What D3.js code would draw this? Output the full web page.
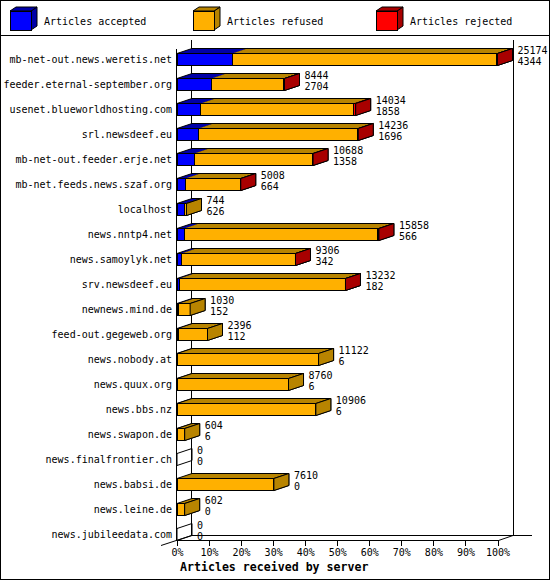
<!DOCTYPE html>
<html>
<head>
<meta charset="utf-8">
<script src="https://cdn.jsdelivr.net/npm/d3@7"></script>
<style>
  html, body { margin: 0; padding: 0; background: #fff; }
  svg { display: block; }
  text { font-family: "DejaVu Sans Mono", monospace; fill: #000; }
  line, rect { shape-rendering: crispEdges; }
</style>
</head>
<body>
<svg id="chart" width="550" height="580"></svg>
<script>
const servers = [
  "mb-net-out.news.weretis.net", "feeder.eternal-september.org", "usenet.blueworldhosting.com",
  "srl.newsdeef.eu", "mb-net-out.feeder.erje.net", "mb-net.feeds.news.szaf.org", "localhost",
  "news.nntp4.net", "news.samoylyk.net", "srv.newsdeef.eu", "newnews.mind.de", "feed-out.gegeweb.org",
  "news.nobody.at", "news.quux.org", "news.bbs.nz", "news.swapon.de", "news.finalfrontier.ch",
  "news.babsi.de", "news.leine.de", "news.jubileedata.com"
];
const totals   = [25174, 8444, 14034, 14236, 10688, 5008, 744, 15858, 9306, 13232, 1030, 2396, 11122, 8760, 10906, 604, 0, 7610, 602, 0];
const accepted = [4344, 2704, 1858, 1696, 1358, 664, 626, 566, 342, 182, 152, 112, 6, 6, 6, 6, 0, 0, 0, 0];
const refused  = [20762, 5644, 11988, 12498, 9276, 4322, 118, 15210, 8928, 13026, 878, 2284, 11116, 8754, 10900, 598, 0, 7610, 602, 0];
const rejected = [68, 96, 188, 42, 54, 22, 0, 82, 36, 24, 0, 0, 0, 0, 0, 0, 0, 0, 0, 0];
const seriesNames = ["Articles accepted", "Articles refused", "Articles rejected"];
const pctTicks = [0, 10, 20, 30, 40, 50, 60, 70, 80, 90, 100];
const xTitle = "Articles received by server";

const front = ["#0000ff", "#ffb000", "#ff0000"];
const dark  = ["#0000a8", "#b88400", "#a80000"];
const DX = 15, DY = 5;

const svg = d3.select("#chart");

// outer frame and legend separator
svg.append("rect").attr("x", 0.5).attr("y", 0.5).attr("width", 549).attr("height", 579)
  .attr("fill", "none").attr("stroke", "#000");
svg.append("line").attr("x1", 0).attr("x2", 550).attr("y1", 35.5).attr("y2", 35.5).attr("stroke", "#000");

// legend
const legX = d3.scalePoint().domain(seriesNames).range([10, 376]);
seriesNames.forEach((name, i) => {
  const x = legX(name), y = 11, w = 21, h = 19, dx = 6, dy = 4;
  const g = svg.append("g");
  g.append("polygon").attr("points", [[x + w, y], [x + w + dx, y - dy], [x + w + dx, y + h - dy], [x + w, y + h]].join(" "))
    .attr("fill", dark[i]).attr("stroke", "#000");
  g.append("polygon").attr("points", [[x, y], [x + dx, y - dy], [x + w + dx, y - dy], [x + w, y]].join(" "))
    .attr("fill", dark[i]).attr("stroke", "#000");
  g.append("rect").attr("x", x + 0.5).attr("y", y + 0.5).attr("width", w).attr("height", h)
    .attr("fill", front[i]).attr("stroke", "#000");
  g.append("text").attr("x", x + 34).attr("y", 25).attr("font-size", "10px").text(name);
});

// scales
const maxTotal = d3.max(totals);
const x = d3.scaleLinear().domain([0, maxTotal]).range([177, 497.5]);
const xp = d3.scaleLinear().domain([0, 100]).range([177, 497.5]);
const y = d3.scaleBand().domain(servers).range([46.5, 546.5]).paddingInner(0.52).paddingOuter(0.26);

const x0 = x(0);
const yTop = y(servers[0]) - DY - 8;
const floorY = y(servers[servers.length - 1]) + y.bandwidth() + 0.5;

// walls
svg.append("line").attr("x1", x0 - 0.5).attr("x2", x0 - 0.5).attr("y1", yTop + DY + 4).attr("y2", floorY).attr("stroke", "#000");
svg.append("line").attr("x1", x0 + DX - 0.5).attr("x2", x0 + DX - 0.5).attr("y1", yTop).attr("y2", floorY - DY).attr("stroke", "#000");
svg.append("line").attr("x1", x(maxTotal) + DX + 0.5).attr("x2", x(maxTotal) + DX + 0.5).attr("y1", yTop).attr("y2", floorY - DY).attr("stroke", "#000");
// floor
svg.append("line").attr("x1", x0 - 0.5).attr("x2", x(maxTotal) + 1).attr("y1", floorY).attr("y2", floorY).attr("stroke", "#000");
svg.append("line").attr("x1", x(maxTotal) + 1).attr("x2", x(maxTotal) + DX + 0.5).attr("y1", floorY).attr("y2", floorY - DY).attr("stroke", "#000").style("shape-rendering", "auto");
svg.append("line").attr("x1", x0 + DX - 0.5).attr("x2", x(maxTotal) + DX + 19).attr("y1", floorY - DY).attr("y2", floorY - DY).attr("stroke", "#000");
svg.append("line").attr("x1", x0 - 16).attr("x2", x0 + DX - 0.5).attr("y1", floorY + DY).attr("y2", floorY - DY).attr("stroke", "#000").style("shape-rendering", "auto");

// bars
servers.forEach((s, r) => {
  const vals = [accepted[r], refused[r], rejected[r]];
  const t = y(s) + 0.5, b = t + y.bandwidth();
  const g = svg.append("g");
  let cum = 0;
  const segs = [];
  vals.forEach((v, i) => {
    if (v > 0) {
      segs.push({ i, a: x(cum), e: x(cum + v) });
    }
    cum += v;
  });
  const xEnd = x(totals[r]);
  if (segs.length === 0) {
    g.append("polygon").attr("points", [[x0, t], [x0 + DX, t - DY], [x0 + DX, b - DY], [x0, b]].join(" "))
      .attr("fill", "none").attr("stroke", "#000");
  } else {
    segs.forEach(sg => {
      g.append("polygon").attr("points", [[sg.e, t], [sg.e + DX, t - DY], [sg.e + DX, b - DY], [sg.e, b]].join(" "))
        .attr("fill", dark[sg.i]).attr("stroke", "#000");
      g.append("polygon").attr("points", [[sg.a, t], [sg.a + DX, t - DY], [sg.e + DX, t - DY], [sg.e, t]].join(" "))
        .attr("fill", dark[sg.i]).attr("stroke", "none");
    });
    g.append("polygon").attr("points", [[x0, t], [x0 + DX, t - DY], [xEnd + DX, t - DY], [xEnd, t]].join(" "))
      .attr("fill", "none").attr("stroke", "#000");
    segs.forEach(sg => {
      g.append("rect").attr("x", sg.a).attr("y", t).attr("width", Math.max(0, sg.e - sg.a)).attr("height", b - t)
        .attr("fill", front[sg.i]).attr("stroke", "#000");
    });
    const last = segs[segs.length - 1];
    g.append("polygon").attr("points", [[last.e, t], [last.e + DX, t - DY], [last.e + DX, b - DY], [last.e, b]].join(" "))
      .attr("fill", dark[last.i]).attr("stroke", "#000");
  }
  // category label
  svg.append("text").attr("x", 172).attr("y", t + 9.5).attr("text-anchor", "end").attr("font-size", "10px").text(s);
  // value labels
  const tx = xEnd + DX + 5;
  svg.append("text").attr("x", tx).attr("y", t + 0.5).attr("font-size", "10px").text(totals[r]);
  svg.append("text").attr("x", tx).attr("y", t + 11).attr("font-size", "10px").text(accepted[r]);
});

// x axis
const axis = d3.axisBottom(xp).tickValues(pctTicks).tickFormat(d => d + "%").tickSize(5).tickPadding(3);
const ax = svg.append("g").attr("transform", `translate(0,${floorY})`).call(axis);
ax.select(".domain").remove();
ax.selectAll("text").attr("font-size", "10px").attr("font-family", "DejaVu Sans Mono").attr("fill", "#000");
ax.selectAll("line").attr("stroke", "#000");

svg.append("text").attr("x", 180).attr("y", 571).attr("font-size", "11.6px").attr("font-weight", "bold").text(xTitle);
</script>
</body>
</html>
